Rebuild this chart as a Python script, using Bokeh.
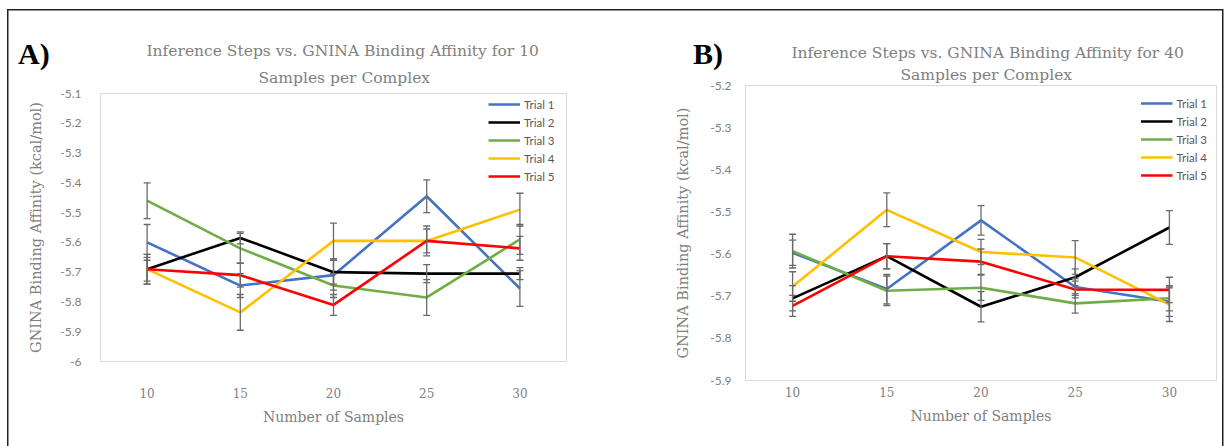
from bokeh.plotting import figure
from bokeh.models import (Range1d, FixedTicker, Title, Whisker, TeeHead, Div,
                          ColumnDataSource, CustomJSTickFormatter)
from bokeh.layouts import row, column
from bokeh.embed import file_html
from bokeh.resources import INLINE

# ---------------- data ----------------
samples = [10, 15, 20, 25, 30]
trial_names = ["Trial 1", "Trial 2", "Trial 3", "Trial 4", "Trial 5"]
trial_colors = ["#4472C4", "#000000", "#70AD47", "#FFC000", "#FF0000"]

# Panel A: 10 samples per complex
a_trial1 = [-5.600, -5.745, -5.710, -5.445, -5.755]
a_trial2 = [-5.690, -5.585, -5.700, -5.705, -5.705]
a_trial3 = [-5.460, -5.620, -5.745, -5.785, -5.590]
a_trial4 = [-5.690, -5.835, -5.595, -5.595, -5.490]
a_trial5 = [-5.690, -5.710, -5.810, -5.595, -5.620]
a_err1 = [0.060, 0.040, 0.050, 0.055, 0.060]
a_err2 = [0.040, 0.020, 0.040, 0.030, 0.020]
a_err3 = [0.060, 0.050, 0.040, 0.060, 0.050]
a_err4 = [0.050, 0.060, 0.060, 0.050, 0.055]
a_err5 = [0.050, 0.040, 0.035, 0.040, 0.040]

# Panel B: 40 samples per complex
b_trial1 = [-5.597, -5.683, -5.520, -5.678, -5.713]
b_trial2 = [-5.705, -5.605, -5.725, -5.655, -5.537]
b_trial3 = [-5.593, -5.687, -5.680, -5.717, -5.705]
b_trial4 = [-5.677, -5.495, -5.595, -5.608, -5.720]
b_trial5 = [-5.723, -5.605, -5.618, -5.684, -5.685]
b_err1 = [0.030, 0.035, 0.035, 0.020, 0.035]
b_err2 = [0.030, 0.030, 0.036, 0.020, 0.040]
b_err3 = [0.040, 0.035, 0.030, 0.023, 0.030]
b_err4 = [0.035, 0.040, 0.030, 0.040, 0.040]
b_err5 = [0.025, 0.030, 0.030, 0.020, 0.030]

a_yticks = [-5.1, -5.2, -5.3, -5.4, -5.5, -5.6, -5.7, -5.8, -5.9, -6.0]
a_ylabels = ["-5.1", "-5.2", "-5.3", "-5.4", "-5.5", "-5.6", "-5.7", "-5.8", "-5.9", "-6"]
b_yticks = [-5.2, -5.3, -5.4, -5.5, -5.6, -5.7, -5.8, -5.9]
b_ylabels = ["-5.2", "-5.3", "-5.4", "-5.5", "-5.6", "-5.7", "-5.8", "-5.9"]

title_a = ["Inference Steps vs. GNINA Binding Affinity for 10", "Samples per Complex"]
title_b = ["Inference Steps vs. GNINA Binding Affinity for 40", "Samples per Complex"]
x_title = "Number of Samples"
y_title = "GNINA Binding Affinity (kcal/mol)"
panel_letters = ["A)", "B)"]

GRAY = "#808080"
SERIF = "DejaVu Serif"
W, H = 613, 446


def make_panel(titles, series, errs, yrange, yticks, ylabels, cfg):
    p = figure(width=W, height=H, x_range=Range1d(7.5, 32.5),
               y_range=Range1d(*yrange), output_backend="svg",
               toolbar_location=None,
               min_border_left=cfg["left"], min_border_right=cfg["right"],
               min_border_top=cfg["top"], min_border_bottom=cfg["bottom"])
    p.background_fill_color = "white"
    p.border_fill_alpha = 0
    p.outline_line_color = "#d9d9d9"
    p.outline_line_width = 1
    p.xgrid.grid_line_color = None
    p.ygrid.grid_line_color = None

    # titles (the figure's own title is outermost, added ones sit nearer the frame)
    p.title.text = titles[0]
    p.title.align = "left"
    p.title.offset = cfg["off1"]
    p.title.standoff = 0
    p.title.text_font = SERIF
    p.title.text_font_size = "15.5px"
    p.title.text_font_style = "normal"
    p.title.text_color = GRAY
    t2 = Title(text=titles[1], align="left", offset=cfg["off2"], standoff=cfg["tstand"],
               text_font=SERIF, text_font_size="15.5px",
               text_font_style="normal", text_color=GRAY)
    p.add_layout(t2, "above")

    # axes
    xa = p.xaxis[0]
    xa.ticker = FixedTicker(ticks=samples)
    xa.axis_line_color = None
    xa.major_tick_line_color = None
    xa.minor_tick_line_color = None
    xa.major_label_text_font = SERIF
    xa.major_label_text_font_size = "12px"
    xa.major_label_text_color = GRAY
    xa.major_label_standoff = cfg["xls"]
    xa.axis_label = x_title
    xa.axis_label_text_font = SERIF
    xa.axis_label_text_font_size = "14px"
    xa.axis_label_text_font_style = "normal"
    xa.axis_label_text_color = GRAY
    xa.axis_label_standoff = cfg["xas"]

    ya = p.yaxis[0]
    ya.ticker = FixedTicker(ticks=yticks)
    ya.formatter = CustomJSTickFormatter(args=dict(tv=yticks, tl=ylabels), code="""
        let best = 0;
        for (let i = 0; i < tv.length; i++) {
            if (Math.abs(tv[i] - tick) < Math.abs(tv[best] - tick)) best = i;
        }
        return tl[best];
    """)
    ya.axis_line_color = None
    ya.major_tick_line_color = None
    ya.minor_tick_line_color = None
    ya.major_label_text_font = "Lato"
    ya.major_label_text_font_size = "12px"
    ya.major_label_text_color = GRAY
    ya.major_label_standoff = cfg["yls"]
    ya.axis_label = y_title
    ya.axis_label_text_font = SERIF
    ya.axis_label_text_font_size = "14.5px"
    ya.axis_label_text_font_style = "normal"
    ya.axis_label_text_color = GRAY
    ya.axis_label_standoff = cfg["yas"]

    # series
    for name, color, ys, es in zip(trial_names, trial_colors, series, errs):
        src = ColumnDataSource(dict(x=samples, y=ys,
                                    upper=[v + e for v, e in zip(ys, es)],
                                    lower=[v - e for v, e in zip(ys, es)]))
        p.line("x", "y", source=src, line_color=color, line_width=2.6,
               legend_label=name)
        w = Whisker(base="x", upper="upper", lower="lower", source=src,
                    line_color="#6a6a6a", line_width=1.3, level="annotation",
                    upper_head=TeeHead(size=7, line_color="#6a6a6a", line_width=1.3),
                    lower_head=TeeHead(size=7, line_color="#6a6a6a", line_width=1.3))
        p.add_layout(w)

    lg = p.legend[0]
    lg.location = "top_right"
    lg.margin = cfg["lmar"]
    lg.padding = cfg["lpad"]
    lg.spacing = 0
    lg.glyph_width = 32
    lg.glyph_height = 18
    lg.label_height = 18
    lg.label_width = cfg["lw"]
    lg.label_standoff = 4
    lg.label_text_font = "Lato"
    lg.label_text_font_size = "11.5px"
    lg.label_text_color = "#595959"
    lg.label_text_baseline = "middle"
    lg.background_fill_alpha = 0
    lg.border_line_color = None
    return p


pa = make_panel(title_a,
                [a_trial1, a_trial2, a_trial3, a_trial4, a_trial5],
                [a_err1, a_err2, a_err3, a_err4, a_err5],
                (-6.0, -5.1), a_yticks, a_ylabels,
                dict(left=100, right=47, top=93, bottom=85, off1=46, off2=158,
                     tstand=14, xls=20, xas=8, yls=13, yas=13,
                     lmar=2, lpad=2, lw=40))
pb = make_panel(title_b,
                [b_trial1, b_trial2, b_trial3, b_trial4, b_trial5],
                [b_err1, b_err2, b_err3, b_err4, b_err5],
                (-5.9, -5.2), b_yticks, b_ylabels,
                dict(left=132, right=10, top=85, bottom=66, off1=46, off2=155,
                     tstand=4, xls=0, xas=8, yls=8, yas=16,
                     lmar=9, lpad=4, lw=28))


def letter_div(text, left):
    html = ("<span style=\"font-family: 'Liberation Serif', 'Times New Roman', serif; "
            "font-weight: bold; font-size: 30px; line-height: 36px; color: #000;\">"
            f"{text}</span>")
    return Div(text=html, width=40, height=36,
               styles={"position": "absolute", "left": f"{left}px", "top": "36px",
                       "z-index": "5", "margin": "0", "padding": "0"})


# outer picture frame (thin dark border at top, left and right) painted behind the figures
frame_bg = ("linear-gradient(#222,#222) 7px 9px / 1216px 1.5px no-repeat, "
            "linear-gradient(#222,#222) 7px 9px / 1.5px 440px no-repeat, "
            "linear-gradient(#222,#222) 1222px 9px / 1.5px 440px no-repeat, white")
layout = row(column(pa), column(pb),
             letter_div(panel_letters[0], 18), letter_div(panel_letters[1], 693),
             styles={"background": frame_bg, "position": "relative"})
open("out.html", "w").write(file_html(layout, INLINE))
